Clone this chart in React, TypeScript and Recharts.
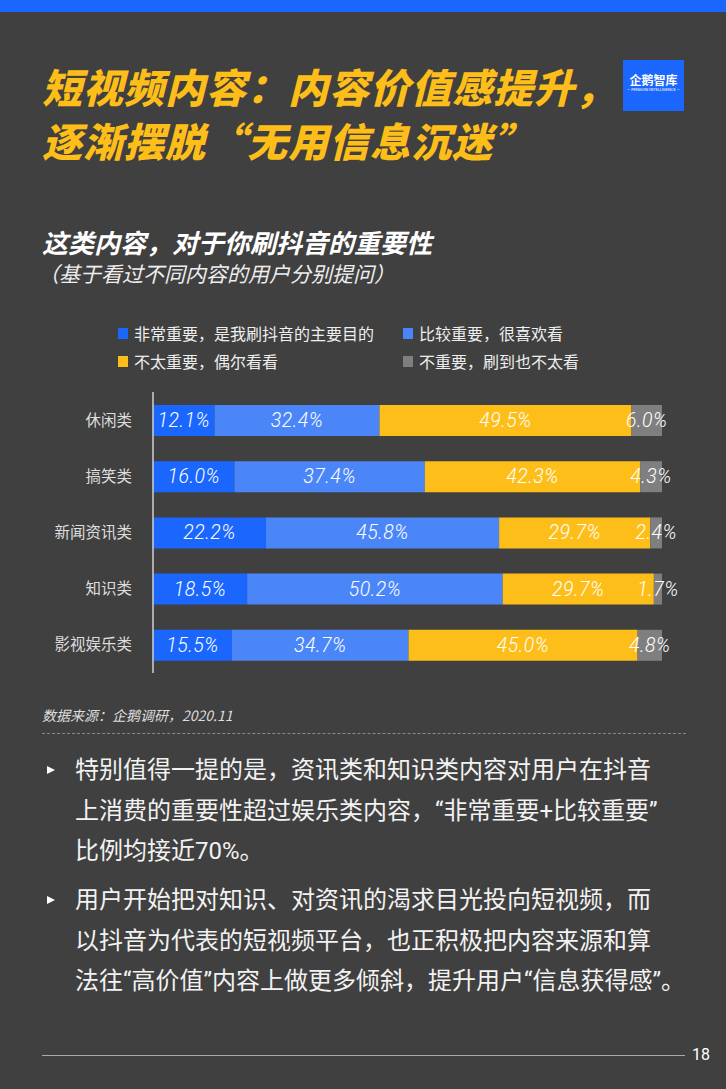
import React from "react";
import { Bar, BarChart, LabelList, XAxis, YAxis } from "recharts";

const categories = ["休闲类", "搞笑类", "新闻资讯类", "知识类", "影视娱乐类"];
const veryImportant = [12.1, 16.0, 22.2, 18.5, 15.5];
const fairlyImportant = [32.4, 37.4, 45.8, 50.2, 34.7];
const notVeryImportant = [49.5, 42.3, 29.7, 29.7, 45.0];
const notImportant = [6.0, 4.3, 2.4, 1.7, 4.8];

const seriesKeys = ["a", "b", "c", "d"];
const seriesNames = [
  "非常重要，是我刷抖音的主要目的",
  "比较重要，很喜欢看",
  "不太重要，偶尔看看",
  "不重要，刷到也不太看",
];
const seriesColors = ["#1b67fd", "#4b86f9", "#fdbe1a", "#7f7f7f"];

const titleLines = ["短视频内容：内容价值感提升，", "逐渐摆脱“无用信息沉迷”"];

const bullets = [
  [
    "特别值得一提的是，资讯类和知识类内容对用户在抖音",
    "上消费的重要性超过娱乐类内容，“非常重要+比较重要”",
    "比例均接近70%。",
  ],
  [
    "用户开始把对知识、对资讯的渴求目光投向短视频，而",
    "以抖音为代表的短视频平台，也正积极把内容来源和算",
    "法往“高价值”内容上做更多倾斜，提升用户“信息获得感”。",
  ],
];

const data = categories.map((name, i) => ({
  name,
  a: veryImportant[i],
  b: fairlyImportant[i],
  c: notVeryImportant[i],
  d: notImportant[i],
}));

const cjk = '"Noto Sans CJK SC", "Noto Sans", sans-serif';
const mixed = 'Roboto, "Noto Sans CJK SC", sans-serif';

const ValueLabel = (props: any) => {
  const { x, y, width, height, value } = props;
  return (
    <text
      x={x + width / 2}
      y={y + height / 2}
      textAnchor="middle"
      dominantBaseline="central"
      fill="#ffffff"
      fontSize={19.5}
      fontStyle="italic"
      fontWeight={300}
      fontFamily="Roboto, sans-serif"
      letterSpacing={0.5}
    >
      {Number(value).toFixed(1)}%
    </text>
  );
};

export default function App() {
  return (
    <div
      style={{
        position: "absolute",
        left: 0,
        top: 0,
        width: 726,
        height: 1089,
        background: "#404040",
        overflow: "hidden",
        fontFamily: cjk,
      }}
    >
      <div style={{ position: "absolute", left: 0, top: 0, width: 726, height: 12, background: "#1b67fd" }} />

      {titleLines.map((t, i) => (
        <div
          key={t}
          style={{
            position: "absolute",
            left: 42,
            top: 63 + i * 54,
            color: "#fdbe1a",
            fontSize: 40,
            fontWeight: 900,
            fontStyle: "italic",
            lineHeight: "46px",
            letterSpacing: 1,
            whiteSpace: "nowrap",
          }}
        >
          {t}
        </div>
      ))}

      <div
        style={{
          position: "absolute",
          left: 623,
          top: 60,
          width: 61,
          height: 51,
          background: "#1b67fd",
          color: "#fff",
          textAlign: "center",
        }}
      >
        <div style={{ fontSize: 12, fontWeight: 700, marginTop: 13, lineHeight: "14px" }}>企鹅智库</div>
        <div style={{ fontSize: 4, lineHeight: "6px", fontFamily: "Roboto, sans-serif" }}>— PENGUIN INTELLIGENCE —</div>
      </div>

      <div
        style={{
          position: "absolute",
          left: 42,
          top: 228,
          color: "#ffffff",
          fontSize: 26,
          fontWeight: 700,
          fontStyle: "italic",
          whiteSpace: "nowrap",
          lineHeight: "28px",
        }}
      >
        这类内容，对于你刷抖音的重要性
      </div>
      <div
        style={{
          position: "absolute",
          left: 38,
          top: 261,
          color: "#eeeeee",
          fontSize: 21,
          fontStyle: "italic",
          whiteSpace: "nowrap",
          lineHeight: "24px",
        }}
      >
        （基于看过不同内容的用户分别提问）
      </div>

      {seriesNames.map((n, i) => (
        <div
          key={n}
          style={{
            position: "absolute",
            left: i % 2 === 0 ? 118 : 403,
            top: i < 2 ? 322 : 350,
            height: 22,
            display: "flex",
            alignItems: "center",
            color: "#eeeeee",
            fontSize: 16,
            whiteSpace: "nowrap",
          }}
        >
          <span style={{ width: 10, height: 11, background: seriesColors[i], marginRight: 6 }} />
          {n}
        </div>
      ))}

      <div style={{ position: "absolute", left: 0, top: 392 }}>
        <BarChart
          width={726}
          height={281}
          data={data}
          layout="vertical"
          margin={{ top: 0, right: 64, bottom: 0, left: 0 }}
          barSize={31}
        >
          <XAxis type="number" domain={[0, 100]} hide allowDataOverflow />
          <YAxis
            type="category"
            dataKey="name"
            width={153}
            tickLine={false}
            tickSize={0}
            tickMargin={21}
            axisLine={{ stroke: "#d0d0d0", strokeWidth: 1.5 }}
            tick={{ fill: "#dddddd", fontSize: 15.5, fontFamily: cjk }}
          />
          {seriesKeys.map((k, i) => (
            <Bar key={k} dataKey={k} stackId="s" fill={seriesColors[i]} isAnimationActive={false}>
              <LabelList dataKey={k} content={ValueLabel} />
            </Bar>
          ))}
        </BarChart>
      </div>

      <div
        style={{
          position: "absolute",
          left: 42,
          top: 704,
          color: "#dddddd",
          fontSize: 14,
          fontStyle: "italic",
          whiteSpace: "nowrap",
          lineHeight: "22px",
        }}
      >
        数据来源：企鹅调研，2020.11
      </div>
      <div
        style={{
          position: "absolute",
          left: 42,
          top: 733,
          width: 644,
          height: 0,
          borderTop: "1px dashed #8a8a8a",
        }}
      />

      {bullets.map((lines, p) => (
        <div key={p} style={{ position: "absolute", left: 0, top: p === 0 ? 750 : 880 }}>
          <div
            style={{
              position: "absolute",
              left: 47,
              top: 16,
              width: 0,
              height: 0,
              borderTop: "4.5px solid transparent",
              borderBottom: "4.5px solid transparent",
              borderLeft: "8px solid #ffffff",
            }}
          />
          {lines.map((t, j) => (
            <div
              key={j}
              style={{
                position: "absolute",
                left: 75,
                top: j * 40.5,
                color: "#f2f2f2",
                fontSize: 24,
                lineHeight: "40px",
                whiteSpace: "nowrap",
                fontFamily: mixed,
              }}
            >
              {t}
            </div>
          ))}
        </div>
      ))}

      <div style={{ position: "absolute", left: 42, top: 1055, width: 643, height: 1, background: "#aaaaaa" }} />
      <div
        style={{
          position: "absolute",
          left: 692,
          top: 1044,
          color: "#ffffff",
          fontSize: 16,
          fontFamily: "Roboto, sans-serif",
          lineHeight: "22px",
        }}
      >
        18
      </div>
    </div>
  );
}
